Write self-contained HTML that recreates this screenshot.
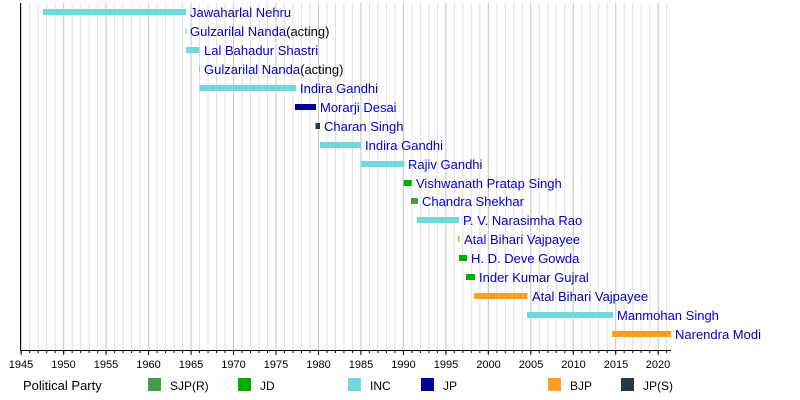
<!DOCTYPE html>
<html><head><meta charset="utf-8"><style>
html,body{margin:0;padding:0;background:#fff}
svg{display:block;font-family:"Liberation Sans",Arial,sans-serif}
</style></head><body>
<svg width="800" height="400" viewBox="0 0 800 400" xmlns="http://www.w3.org/2000/svg">
<defs>
<pattern id="g1" patternUnits="userSpaceOnUse" x="20.7" y="0" width="8.493" height="400"><line x1="0.5" y1="0" x2="0.5" y2="400" stroke="#e0e0e0" stroke-width="1"/></pattern>
<pattern id="g5" patternUnits="userSpaceOnUse" x="20.7" y="0" width="42.465" height="400"><line x1="0.5" y1="0" x2="0.5" y2="400" stroke="#c8c8c8" stroke-width="1"/></pattern>
<pattern id="t1" patternUnits="userSpaceOnUse" x="20.7" y="0" width="8.493" height="400"><line x1="0.5" y1="0" x2="0.5" y2="400" stroke="#000" stroke-width="1"/></pattern>
</defs>
<rect x="21" y="3" width="650" height="347" fill="url(#g1)"/>
<rect x="21" y="3" width="650" height="347" fill="url(#g5)"/>
<rect x="20" y="350" width="651" height="3" fill="url(#t1)"/>
<g stroke="#000" stroke-width="1">
<line x1="20.5" y1="3" x2="20.5" y2="350"/>
<line x1="20" y1="350.5" x2="671" y2="350.5"/>
<line x1="21.2" y1="350" x2="21.2" y2="355"/><line x1="63.7" y1="350" x2="63.7" y2="355"/><line x1="106.1" y1="350" x2="106.1" y2="355"/><line x1="148.6" y1="350" x2="148.6" y2="355"/><line x1="191.1" y1="350" x2="191.1" y2="355"/><line x1="233.5" y1="350" x2="233.5" y2="355"/><line x1="276" y1="350" x2="276" y2="355"/><line x1="318.5" y1="350" x2="318.5" y2="355"/><line x1="360.9" y1="350" x2="360.9" y2="355"/><line x1="403.4" y1="350" x2="403.4" y2="355"/><line x1="445.9" y1="350" x2="445.9" y2="355"/><line x1="488.3" y1="350" x2="488.3" y2="355"/><line x1="530.8" y1="350" x2="530.8" y2="355"/><line x1="573.3" y1="350" x2="573.3" y2="355"/><line x1="615.7" y1="350" x2="615.7" y2="355"/><line x1="658.2" y1="350" x2="658.2" y2="355"/>
</g>
<g font-size="11" fill="#000" text-anchor="middle">
<text x="21" y="368">1945</text><text x="63.5" y="368">1950</text><text x="106" y="368">1955</text><text x="148.5" y="368">1960</text><text x="191" y="368">1965</text><text x="233.5" y="368">1970</text><text x="276" y="368">1975</text><text x="318.5" y="368">1980</text><text x="361" y="368">1985</text><text x="403.5" y="368">1990</text><text x="446" y="368">1995</text><text x="488.5" y="368">2000</text><text x="531" y="368">2005</text><text x="573.5" y="368">2010</text><text x="616" y="368">2015</text><text x="658" y="368">2020</text>
</g>
<g>
<rect x="43" y="9" width="143" height="6" fill="#6fd8dc"/>
<rect x="185.5" y="28" width="1.2" height="6" fill="#6fd8dc"/>
<rect x="186" y="47" width="13.5" height="6" fill="#6fd8dc"/>
<rect x="199" y="66" width="1" height="6" fill="#6fd8dc"/>
<rect x="199.5" y="85" width="96.5" height="6" fill="#6fd8dc"/>
<rect x="295" y="104" width="21" height="6" fill="#000099"/>
<rect x="315.5" y="123" width="4.5" height="6" fill="#283747"/>
<rect x="320" y="142" width="41" height="6" fill="#6fd8dc"/>
<rect x="360.5" y="161" width="44" height="6" fill="#6fd8dc"/>
<rect x="403.7" y="180" width="8" height="6" fill="#00b000"/>
<rect x="411" y="198" width="7" height="6" fill="#4a9a4a"/>
<rect x="417" y="217" width="42" height="6" fill="#6fd8dc"/>
<rect x="458" y="236" width="1.5" height="6" fill="#ff9e22"/>
<rect x="459" y="255" width="8" height="6" fill="#00b000"/>
<rect x="466" y="274" width="9" height="6" fill="#00b000"/>
<rect x="474" y="293" width="53.5" height="6" fill="#ff9e22"/>
<rect x="527" y="312" width="86" height="6" fill="#6fd8dc"/>
<rect x="612" y="331" width="59" height="6" fill="#ff9e22"/>
</g>
<g font-size="13" fill="#0000cc">
<text x="190" y="17">Jawaharlal Nehru</text>
<text x="190" y="36">Gulzarilal Nanda<tspan fill="#000">(acting)</tspan></text>
<text x="204" y="55">Lal Bahadur Shastri</text>
<text x="204" y="74">Gulzarilal Nanda<tspan fill="#000">(acting)</tspan></text>
<text x="300" y="93">Indira Gandhi</text>
<text x="320" y="112">Morarji Desai</text>
<text x="324" y="131">Charan Singh</text>
<text x="365" y="150">Indira Gandhi</text>
<text x="408" y="169">Rajiv Gandhi</text>
<text x="416" y="188">Vishwanath Pratap Singh</text>
<text x="422" y="206">Chandra Shekhar</text>
<text x="463" y="225">P. V. Narasimha Rao</text>
<text x="464" y="244">Atal Bihari Vajpayee</text>
<text x="471" y="263">H. D. Deve Gowda</text>
<text x="479" y="282">Inder Kumar Gujral</text>
<text x="532" y="301">Atal Bihari Vajpayee</text>
<text x="617" y="320">Manmohan Singh</text>
<text x="675" y="339">Narendra Modi</text>
</g>
<g font-size="12" fill="#000">
<text x="23" y="390" font-size="13">Political Party</text>
<rect x="148" y="378" width="13" height="13" fill="#4a9a4a"/><text x="170" y="390">SJP(R)</text>
<rect x="238" y="378" width="13" height="13" fill="#00b000"/><text x="260" y="390">JD</text>
<rect x="348" y="378" width="13" height="13" fill="#6fd8dc"/><text x="370" y="390">INC</text>
<rect x="421" y="378" width="13" height="13" fill="#000099"/><text x="443" y="390">JP</text>
<rect x="548" y="378" width="13" height="13" fill="#ff9e22"/><text x="570" y="390">BJP</text>
<rect x="621" y="378" width="13" height="13" fill="#283747"/><text x="643" y="390">JP(S)</text>
</g>
</svg>
</body></html>
